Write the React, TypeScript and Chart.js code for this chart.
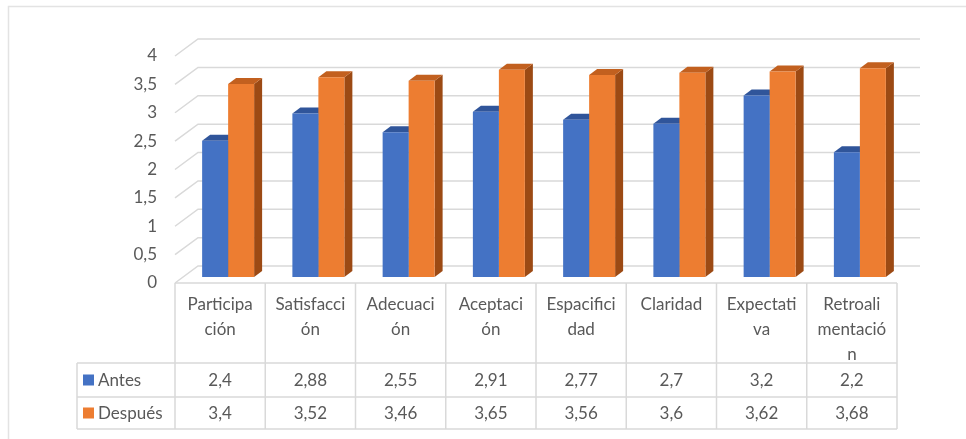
import React, { useEffect, useRef } from "react";
import { Chart, registerables } from "chart.js";

Chart.register(...registerables);

// ---- data ----
const categoryLines: string[][] = [
  ["Participa", "ción"],
  ["Satisfacci", "ón"],
  ["Adecuaci", "ón"],
  ["Aceptaci", "ón"],
  ["Espacifici", "dad"],
  ["Claridad"],
  ["Expectati", "va"],
  ["Retroali", "mentació", "n"],
];
const seriesNames = ["Antes", "Después"];
const antesValues = [2.4, 2.88, 2.55, 2.91, 2.77, 2.7, 3.2, 2.2];
const despuesValues = [3.4, 3.52, 3.46, 3.65, 3.56, 3.6, 3.62, 3.68];
const yMin = 0;
const yMax = 4;
const yStep = 0.5;

// ---- styles ----
const FONT = "Lato";
const TEXT = "#595959";
const GRID = "#D9D9D9";
const frontColors = ["#4472C4", "#ED7D31"];
const topColors = ["#30559A", "#C2601F"];
const sideColors = ["#2A4A86", "#9C4A14"];
const DX = 8, DY = 6; // bar depth
const FX = -8, FY = 6; // front plane offset
const BX = 15, BY = -11; // back plane offset

const fmt = (v: number) => String(v).replace(".", ",");

function poly(ctx: CanvasRenderingContext2D, pts: number[][]) {
  ctx.beginPath();
  ctx.moveTo(pts[0][0], pts[0][1]);
  for (let i = 1; i < pts.length; i++) ctx.lineTo(pts[i][0], pts[i][1]);
  ctx.closePath();
  ctx.fill();
}

const excel3d = {
  id: "excel3d",
  beforeDraw(chart: any) {
    const { ctx, chartArea: a, scales } = chart;
    const y = scales.y;
    ctx.save();
    ctx.strokeStyle = "#E3E3E3";
    ctx.lineWidth = 1.5;
    ctx.beginPath();
    ctx.moveTo(8.5, 445);
    ctx.lineTo(8.5, 6.5);
    ctx.lineTo(970, 6.5);
    ctx.stroke();

    ctx.strokeStyle = GRID;
    ctx.lineWidth = 1.5;
    y.ticks.forEach((t: any) => {
      const py = y.getPixelForValue(t.value);
      ctx.beginPath();
      ctx.moveTo(a.left + FX, py + FY);
      ctx.lineTo(a.left + BX, py + BY);
      ctx.lineTo(a.right + BX, py + BY);
      ctx.stroke();
    });
    ctx.restore();
  },
  beforeDatasetsDraw(chart: any) {
    const { ctx } = chart;
    ctx.save();
    chart.data.datasets.forEach((_ds: any, di: number) => {
      const meta = chart.getDatasetMeta(di);
      meta.data.forEach((bar: any) => {
        const { x: cx, y: top, base, width } = bar.getProps(["x", "y", "base", "width"], true);
        const l = cx - width / 2;
        const r = cx + width / 2;
        ctx.fillStyle = sideColors[di];
        poly(ctx, [[r, top], [r + DX, top - DY], [r + DX, base - DY], [r, base]]);
        ctx.fillStyle = topColors[di];
        poly(ctx, [[l, top], [l + DX, top - DY], [r + DX, top - DY], [r, top]]);
      });
    });
    ctx.restore();
  },
  afterDraw(chart: any) {
    const { ctx, chartArea: a, scales } = chart;
    const x = scales.x;
    const n = categoryLines.length;
    const colW = x.getPixelForValue(1) - x.getPixelForValue(0);
    const left = a.left + FX;
    const right = left + colW * n;
    const top = a.bottom + FY;
    const r1 = top + 80;
    const r2 = top + 114;
    const r3 = top + 146;
    const legendLeft = 77;
    ctx.save();
    ctx.strokeStyle = GRID;
    ctx.lineWidth = 1.5;
    ctx.beginPath();
    ctx.moveTo(left, top);
    ctx.lineTo(right, top);
    [r1, r2, r3].forEach((ry) => {
      ctx.moveTo(legendLeft, ry);
      ctx.lineTo(right, ry);
    });
    for (let i = 0; i <= n; i++) {
      const vx = left + i * colW;
      ctx.moveTo(vx, top);
      ctx.lineTo(vx, r3);
    }
    ctx.moveTo(legendLeft, r1);
    ctx.lineTo(legendLeft, r3);
    ctx.stroke();

    ctx.font = `17px ${FONT}`;
    ctx.fillStyle = TEXT;
    ctx.textAlign = "center";
    ctx.textBaseline = "middle";
    const rows = [antesValues, despuesValues];
    const rowMid = [(r1 + r2) / 2, (r2 + r3) / 2];
    rows.forEach((vals, ri) => {
      vals.forEach((v, i) => {
        ctx.fillText(fmt(v), x.getPixelForValue(i) + FX, rowMid[ri] + 1);
      });
      ctx.fillStyle = frontColors[ri];
      ctx.fillRect(legendLeft + 6, rowMid[ri] - 5.5, 11, 11);
      ctx.fillStyle = TEXT;
      ctx.textAlign = "left";
      ctx.fillText(seriesNames[ri], legendLeft + 21, rowMid[ri] + 1);
      ctx.textAlign = "center";
    });
    ctx.restore();
  },
};

export default function App() {
  const ref = useRef<HTMLCanvasElement | null>(null);
  useEffect(() => {
    if (!ref.current) return;
    const chart = new Chart(ref.current, {
      type: "bar",
      data: {
        labels: categoryLines,
        datasets: [
          { label: seriesNames[0], data: antesValues, backgroundColor: frontColors[0], borderWidth: 0 },
          { label: seriesNames[1], data: despuesValues, backgroundColor: frontColors[1], borderWidth: 0 },
        ],
      },
      options: {
        animation: false,
        responsive: false,
        devicePixelRatio: 1,
        events: [],
        layout: { padding: { top: 50, right: 61, bottom: 0, left: 0 } },
        plugins: { legend: { display: false }, tooltip: { enabled: false } },
        datasets: { bar: { categoryPercentage: 0.576, barPercentage: 1 } },
        scales: {
          x: {
            grid: { display: false, drawTicks: false },
            border: { display: false },
            ticks: {
              autoSkip: false,
              maxRotation: 0,
              minRotation: 0,
              padding: 15,
              labelOffset: FX,
              color: TEXT,
              font: { family: FONT, size: 17, lineHeight: 1.47 },
            },
            afterFit: (s: any) => {
              s.height = 162;
            },
          },
          y: {
            min: yMin,
            max: yMax,
            grid: { display: false, drawTicks: false },
            border: { display: false },
            ticks: {
              stepSize: yStep,
              padding: 26,
              labelOffset: 6,
              color: TEXT,
              font: { family: FONT, size: 17 },
              callback: (v: any) => fmt(Number(v)),
            },
            afterFit: (s: any) => {
              s.width = 183;
            },
          },
        },
      },
      plugins: [excel3d],
    });
    return () => chart.destroy();
  }, []);
  return (
    <div style={{ position: "fixed", left: 0, top: 0, width: 966, height: 439, background: "#fff" }}>
      <canvas ref={ref} width={966} height={439} style={{ display: "block" }} />
    </div>
  );
}
